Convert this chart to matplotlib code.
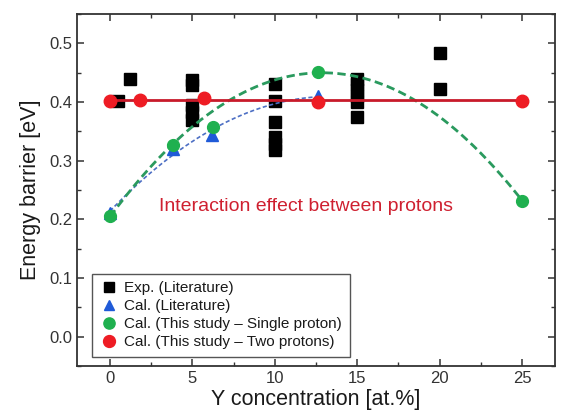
import numpy as np
import matplotlib
matplotlib.use("Agg")
import matplotlib.pyplot as plt
from matplotlib.ticker import MultipleLocator

plt.rcParams['font.family'] = ['Liberation Sans', 'DejaVu Sans']

# Experimental (literature)
exp_x = [0.5, 1.2, 5, 5, 5, 5, 5, 10, 10, 10, 10, 10, 10,
         15, 15, 15, 15, 15, 15, 20, 20]
exp_y = [0.402, 0.44, 0.438, 0.429, 0.395, 0.383, 0.370, 0.431, 0.402, 0.366, 0.34, 0.328, 0.318,
         0.44, 0.43, 0.42, 0.41, 0.40, 0.374, 0.483, 0.422]

# Calculated (literature)
cal_lit_x = [0, 3.8, 6.2, 12.6]
cal_lit_y = [0.211, 0.32, 0.344, 0.410]

# This study - single proton
single_x = [0, 3.8, 6.25, 12.6, 25]
single_y = [0.205, 0.327, 0.358, 0.451, 0.232]

# This study - two protons
two_x = [0, 1.85, 5.7, 12.6, 25]
two_y = [0.402, 0.403, 0.407, 0.400, 0.402]

annot_text = "Interaction effect between protons"

fig = plt.figure(figsize=(5.64, 4.19), dpi=100)
ax = fig.add_axes([0.1365, 0.1265, 0.8475, 0.8401])

sq_c = 'black'
blue_m = '#1f5ad8'
blue_l = '#4d6fc4'
green_m = '#1fb04f'
green_l = '#2a9a5e'
red_m = '#ee1c24'
red_l = '#c81a2a'

ax.plot(exp_x, exp_y, 's', color=sq_c, ms=8, zorder=2, label='Exp. (Literature)')

# fitted curves
cb = np.polyfit(cal_lit_x, cal_lit_y, 2)
xb = np.linspace(min(cal_lit_x), max(cal_lit_x), 100)
ax.plot(xb, np.polyval(cb, xb), '--', color=blue_l, lw=1.2, dashes=(2.5, 1.5), zorder=3)
ax.plot(cal_lit_x, cal_lit_y, '^', color=blue_m, ms=8, zorder=4, label='Cal. (Literature)')

cg = np.polyfit(single_x, single_y, 2, w=[4, 1, 1, 4, 4])
xg = np.linspace(min(single_x), max(single_x), 200)
ax.plot(xg, np.polyval(cg, xg), '--', color=green_l, lw=2.0, dashes=(3, 1.6), zorder=5)
ax.plot(single_x, single_y, 'o', color=green_m, ms=8.5, zorder=6,
        label='Cal. (This study – Single proton)')

ax.plot([min(two_x), max(two_x)], [np.mean(two_y)] * 2, '-', color=red_l, lw=2.0, zorder=7)
ax.plot(two_x, two_y, 'o', color=red_m, ms=9, zorder=8,
        label='Cal. (This study – Two protons)')

ax.text(2.95, 0.222, annot_text, color='#cf2030', fontsize=14, va='center', ha='left')

ax.set_xlim(-2, 27)
ax.set_ylim(-0.05, 0.55)
ax.xaxis.set_major_locator(MultipleLocator(5))
ax.xaxis.set_minor_locator(MultipleLocator(2.5))
ax.yaxis.set_major_locator(MultipleLocator(0.1))
ax.yaxis.set_minor_locator(MultipleLocator(0.05))
ax.yaxis.set_major_formatter(matplotlib.ticker.FormatStrFormatter('%.1f'))
ax.tick_params(which='both', direction='in', top=True, right=True, colors='#333333',
               labelcolor='#333333', labelsize=12)
ax.tick_params(which='major', length=5, width=1.1)
ax.tick_params(which='minor', length=3, width=1.0)
for s in ax.spines.values():
    s.set_color('#333333')
    s.set_linewidth(1.3)

ax.set_xlabel('Y concentration [at.%]', fontsize=15.5, color='#1a1a1a', labelpad=2)
ax.set_ylabel('Energy barrier [eV]', fontsize=15.5, color='#1a1a1a', labelpad=6)

leg = ax.legend(loc='lower left', bbox_to_anchor=(0.031, 0.026), borderaxespad=0,
                fontsize=11, frameon=True, fancybox=False, edgecolor='#555555',
                framealpha=1, handlelength=1.3, handletextpad=0.33, labelspacing=0.26,
                borderpad=0.5, markerscale=0.95)
leg.get_frame().set_linewidth(1.0)
for t in leg.get_texts():
    t.set_color('#1a1a1a')

fig.savefig('out.png', dpi=100)
